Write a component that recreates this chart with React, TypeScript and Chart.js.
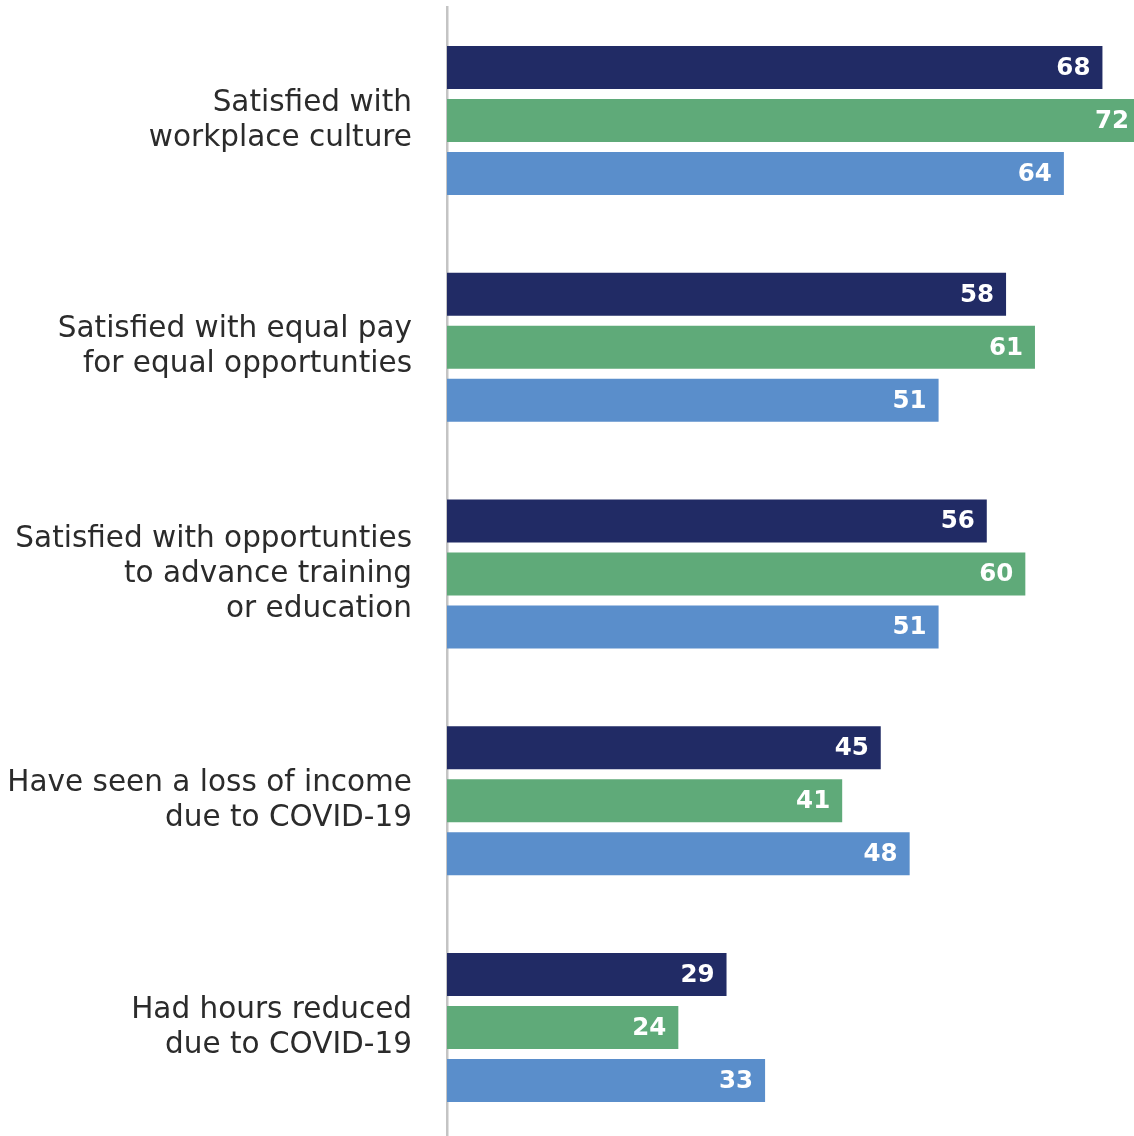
import React, { useEffect, useRef } from "react";
import { Chart, registerables } from "chart.js";

Chart.register(...registerables);

const categories: string[][] = [
  ["Satisfied with", "workplace culture"],
  ["Satisfied with equal pay", "for equal opportunties"],
  ["Satisfied with opportunties", "to advance training", "or education"],
  ["Have seen a loss of income", "due to COVID-19"],
  ["Had hours reduced", "due to COVID-19"],
];

const seriesNames = ["Series 1", "Series 2", "Series 3"];
const series1 = [68, 58, 56, 45, 29];
const series2 = [72, 61, 60, 41, 24];
const series3 = [64, 51, 51, 48, 33];
const colors = ["#212B65", "#5FAA79", "#5A8ECB"];

const valueLabels = {
  id: "valueLabels",
  afterDatasetsDraw(chart: any) {
    const ctx = chart.ctx;
    ctx.save();
    ctx.font = "bold 24.5px 'DejaVu Sans', sans-serif";
    ctx.fillStyle = "#ffffff";
    ctx.textAlign = "right";
    ctx.textBaseline = "middle";
    chart.data.datasets.forEach((ds: any, i: number) => {
      const meta = chart.getDatasetMeta(i);
      meta.data.forEach((bar: any, j: number) => {
        ctx.fillText(String(ds.data[j]), bar.x - 12, bar.y + 1);
      });
    });
    ctx.restore();
  },
};

export default function App() {
  const ref = useRef<HTMLCanvasElement>(null);
  useEffect(() => {
    if (!ref.current) return;
    const data = [series1, series2, series3];
    const chart = new Chart(ref.current, {
      type: "bar",
      data: {
        labels: categories,
        datasets: data.map((d, i) => ({
          label: seriesNames[i],
          data: d,
          backgroundColor: colors[i],
          categoryPercentage: 0.701,
          barPercentage: 0.811,
        })),
      },
      options: {
        indexAxis: "y",
        animation: false,
        responsive: true,
        maintainAspectRatio: false,
        devicePixelRatio: 1,
        layout: { padding: { top: 7, left: 0, right: 0, bottom: 0 } },
        plugins: { legend: { display: false }, tooltip: { enabled: false } },
        scales: {
          x: { display: false, min: 0, max: 72 },
          y: {
            afterFit: (s: any) => {
              s.width = 447;
              s.paddingTop = 0;
              s.paddingBottom = 0;
            },
            grid: { display: true, drawOnChartArea: false, drawTicks: false },
            border: { display: true, color: "#c4c4c4", width: 2.5 },
            ticks: {
              padding: 35,
              color: "#2b2b2b",
              font: { family: "'DejaVu Sans', sans-serif", size: 29.5, lineHeight: 1.19 },
            },
          },
        },
      },
      plugins: [valueLabels],
    });
    return () => chart.destroy();
  }, []);
  return (
    <div style={{ position: "absolute", left: 0, top: 0, width: 1134, height: 1136, overflow: "hidden", background: "#fff" }}>
      <div style={{ position: "relative", width: 1141, height: 1141 }}>
        <canvas ref={ref} />
      </div>
    </div>
  );
}
